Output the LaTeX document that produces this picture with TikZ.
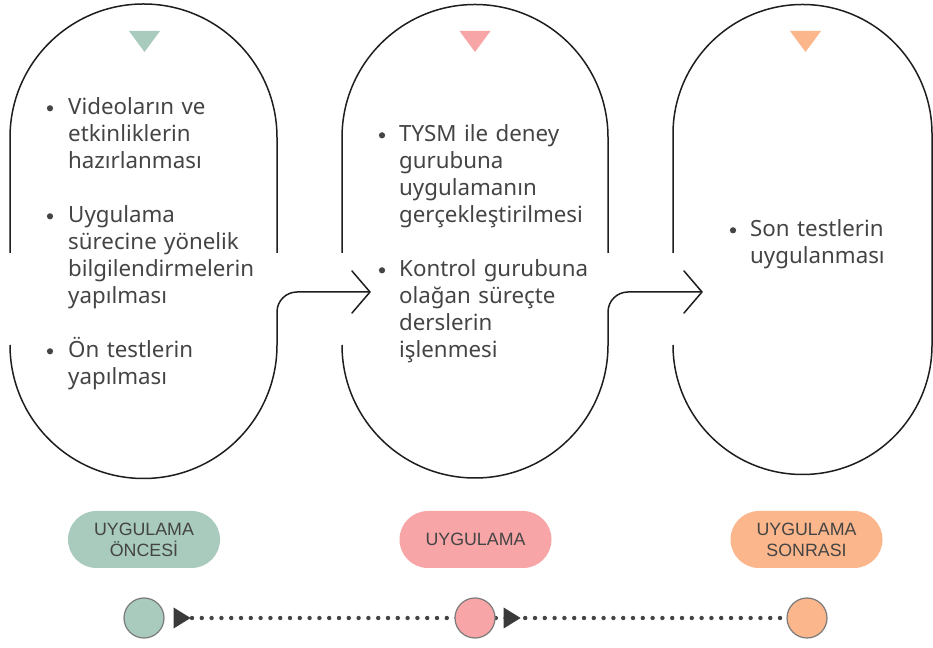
\documentclass[tikz,border=0pt]{standalone}
\usepackage{fontspec}
\setmainfont{Noto Sans}
\newfontfamily\pillfont{Liberation Sans}
\definecolor{sage}{HTML}{A8CBBD}
\definecolor{rose}{HTML}{F8A5A7}
\definecolor{peach}{HTML}{FBB68B}
\definecolor{txt}{HTML}{444444}
\definecolor{edge}{HTML}{1E1E1E}
\definecolor{ring}{HTML}{7A7A7A}
\begin{document}
\begin{tikzpicture}[x=1pt,y=1pt,
  outline/.style={draw=edge,line width=1.5pt},
  body/.style={anchor=base west,inner sep=0pt,text width=200pt,align=left,text=txt,font=\fontsize{22.3}{27}\selectfont},
  pill/.style={rectangle,rounded corners=28.5pt,minimum width=152pt,minimum height=57pt,inner sep=0pt,text=txt,font=\pillfont\fontsize{17.8}{21}\selectfont,align=center},
  dotc/.style={circle,minimum size=40pt,inner sep=0pt,draw=ring,line width=1.2pt},
  dotline/.style={draw=txt,line width=4.4pt,line cap=round,dash pattern=on 0pt off 9.8pt}]
\useasboundingbox (0,0) rectangle (933,647);
\fill[white] (0,0) rectangle (933,647);

% shape 1
\draw[outline] (10,394) -- (10,509.5) arc[start angle=180,end angle=0,radius=133.5] -- (277,394);
\draw[outline] (10,302) arc[start angle=180,end angle=360,radius=133.5] -- (277,335) arc[start angle=180,end angle=90,radius=20] -- (370,355);
\draw[outline,line cap=round,line join=round] (352,376) -- (370,355) -- (352,334);
% shape 2
\draw[outline] (342,394) -- (342,509.5) arc[start angle=180,end angle=0,radius=133] -- (608,394);
\draw[outline] (342,302) arc[start angle=180,end angle=360,radius=133] -- (608,335) arc[start angle=180,end angle=90,radius=20] -- (702,355);
\draw[outline,line cap=round,line join=round] (684,376) -- (702,355) -- (684,334);
% shape 3
\draw[outline] (673,394) -- (673,513) arc[start angle=180,end angle=0,radius=129.5] -- (932,302) arc[start angle=0,end angle=-180,radius=129.5];

% top triangles
\fill[sage] (129,616) -- (160,616) -- (144.5,595) -- cycle;
\fill[rose] (459.5,616) -- (490.5,616) -- (475,595) -- cycle;
\fill[peach] (790,616) -- (821,616) -- (805.5,595) -- cycle;

% texts shape 1
\fill[txt] (50,538.7) circle (3.1);
\node[body] (t1a) at (68,532) {Videoların ve\\etkinliklerin\\hazırlanması};
\fill[txt] (50,430.7) circle (3.1);
\node[body] (t1b) at (68,424) {Uygulama\\sürecine yönelik\\bilgilendirmelerin\\yapılması};
\fill[txt] (50,295.7) circle (3.1);
\node[body] (t1c) at (68,289) {Ön testlerin\\yapılması};
% texts shape 2
\fill[txt] (382,511.7) circle (3.1);
\node[body] (t2a) at (399,505) {TYSM ile deney\\gurubuna\\uygulamanın\\gerçekleştirilmesi};
\fill[txt] (382,376.7) circle (3.1);
\node[body] (t2b) at (399,370) {Kontrol gurubuna\\olağan süreçte\\derslerin\\işlenmesi};
% texts shape 3
\fill[txt] (733,416.7) circle (3.1);
\node[body,text width=175pt] (t3a) at (750,410) {Son testlerin\\uygulanması};

% pills
\node[pill,fill=sage] (p1) at (144,107.5) {UYGULAMA\\ÖNCESİ};
\node[pill,fill=rose] (p2) at (475.5,107.5) {UYGULAMA};
\node[pill,fill=peach] (p3) at (806.5,107.5) {UYGULAMA\\SONRASI};

% timeline
\coordinate (c1pos) at (144,29);
\coordinate (c2pos) at (475,29);
\coordinate (c3pos) at (807,29);
\coordinate (dstart) at (192,29);
\coordinate (dend) at (787,29);
\draw[dotline] (dstart) -- (dend);
\node[dotc,fill=sage] (c1) at (c1pos) {};
\node[dotc,fill=rose] (c2) at (c2pos) {};
\node[dotc,fill=peach] (c3) at (c3pos) {};
\fill[txt!85!black] ([xshift=9pt]c1.east) -- ++(0,10.5) -- ++(17,-10.5) -- ++(-17,-10.5) -- cycle;
\fill[txt!85!black] ([xshift=8pt]c2.east) -- ++(0,10.5) -- ++(17,-10.5) -- ++(-17,-10.5) -- cycle;
\end{tikzpicture}
\end{document}
